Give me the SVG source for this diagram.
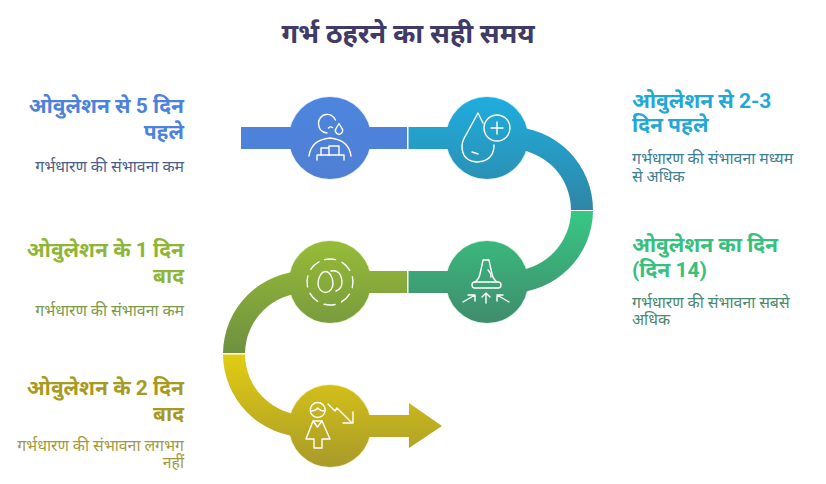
<svg xmlns="http://www.w3.org/2000/svg" width="826" height="484" viewBox="0 0 826 484">
<style>
text{font-family:Roboto,"Noto Sans","Liberation Sans",sans-serif}
.t{font-size:27px;font-weight:700;fill:#3f3b66;text-anchor:middle}
.h{font-size:21px;font-weight:700}
.b{font-size:15.800px}
.e{text-anchor:end}
.i{fill:none;stroke:#fff;stroke-width:1.400;stroke-linecap:round;stroke-linejoin:round}
</style>
<defs>
<linearGradient id="g1" gradientUnits="userSpaceOnUse" x1="0" y1="97" x2="0" y2="179"><stop offset="0" stop-color="#4d85de"/><stop offset="1" stop-color="#4f7fd4"/></linearGradient>
<linearGradient id="g2" gradientUnits="userSpaceOnUse" x1="0" y1="97" x2="0" y2="210"><stop offset="0" stop-color="#1fadde"/><stop offset="1" stop-color="#2f86a6"/></linearGradient>
<linearGradient id="g3" gradientUnits="userSpaceOnUse" x1="0" y1="210" x2="0" y2="323"><stop offset="0" stop-color="#37c884"/><stop offset="1" stop-color="#408c6c"/></linearGradient>
<linearGradient id="g4" gradientUnits="userSpaceOnUse" x1="0" y1="241" x2="0" y2="354"><stop offset="0" stop-color="#97bb37"/><stop offset="1" stop-color="#6d9040"/></linearGradient>
<linearGradient id="g5" gradientUnits="userSpaceOnUse" x1="0" y1="354" x2="0" y2="467"><stop offset="0" stop-color="#e2cd12"/><stop offset="1" stop-color="#a89a2a"/></linearGradient>
</defs>
<text class="t" x="408" y="43">गर्भ ठहरने का सही समय</text>
<g id="halos">
<circle cx="330" cy="138" r="42" fill="#e6eefb"/>
<circle cx="487" cy="138" r="42" fill="#def2f9"/>
<circle cx="487" cy="282" r="42" fill="#e0f5ea"/>
<circle cx="330" cy="282" r="42" fill="#edf4dc"/>
<circle cx="330" cy="426" r="42" fill="#f8f3d0"/>
</g>
<g id="connectors">
<rect x="241" y="127" width="166" height="22" fill="url(#g1)"/>
<path d="M408.500 127H510A83 83 0 0 1 593 210H571A61 61 0 0 0 510 149H408.500Z" fill="url(#g2)"/>
<path d="M408.500 293H510A83 83 0 0 0 593 211H571A61 61 0 0 1 510 271H408.500Z" fill="url(#g3)"/>
<path d="M407 271H306A83 83 0 0 0 223 353H245A61 61 0 0 1 306 293H407Z" fill="url(#g4)"/>
<path d="M223 354.500A83 83 0 0 0 306 437H409V448L442 426L409 403V415H306A61 61 0 0 1 245 354.500Z" fill="url(#g5)"/>
</g>
<g id="node1">
<circle cx="330" cy="138" r="41" fill="url(#g1)"/>
<g class="i"><path d="M327 133q-8.500-1-8.500-10a8.800 8.800 0 0 1 17-3"/><path d="M328.500 128q2-2 4-.5"/><path d="M339 123.500l-3 5a3.600 3.600 0 1 0 6 0Z"/><path d="M309 156q2-16 21-18q19 2 21 18"/><path d="M317 160v-5h27v5"/><path d="M321 155v-7h8M329 155v-9h10v9"/></g>
</g>
<g id="node2">
<circle cx="487" cy="138" r="41" fill="url(#g2)"/>
<g class="i"><circle cx="497" cy="128" r="13"/><path d="M497 122v12M491 128h12"/><path d="M483 123l-5-10l-11 20q-5 8-5 13q0 15 15 16q17-1 17-17"/><path d="M472 152l6 2"/></g>
</g>
<g id="node3">
<circle cx="487" cy="282" r="41" fill="url(#g3)"/>
<g class="i"><rect x="472" y="282" width="29" height="6" rx="3"/><path d="M475 282q4-3 5-8l2-9l1-5h6l1 5l2 9q1 5 5 8"/><path d="M488 270q3 3 3 7"/><path d="M463 302l12-7M468 295h7v6"/><path d="M486 303v-10M482 297l4-4l4 4"/><path d="M509 302l-12-7M503 295h-6v6"/></g>
</g>
<g id="node4">
<circle cx="330" cy="282" r="41" fill="url(#g4)"/>
<g class="i"><circle cx="330" cy="282" r="23" stroke-dasharray="11 7.060" transform="rotate(-103.700 330 282)"/><path d="M325.500 271.500c-4 0-7.500 6-7.500 12c0 5 3.500 9 7.500 9s7.500-4 7.500-9c0-6-3.500-12-7.500-12Z"/><path d="M331 271q10-2 11 11q0 7-6 9"/></g>
</g>
<g id="node5">
<circle cx="330" cy="426" r="41" fill="url(#g5)"/>
<g class="i"><circle cx="317.700" cy="410" r="7.500"/><path d="M310.500 411q5 0 7-3q3 3 7 3"/><path d="M313 421h9l8 18h-8v9h-8v-9h-8Z"/><path d="M313 421l4.500 6l4.500-6"/><path d="M328 404l7 7l2-3l15 15M353 412v11h-10"/></g>
</g>
<g id="labels">
<text class="h e" x="184" y="113" fill="#4d82dc">ओवुलेशन से 5 दिन</text>
<text class="h e" x="184" y="139" fill="#4d82dc">पहले</text>
<text class="b e" x="184" y="172" fill="#4c5f86">गर्भधारण की संभावना कम</text>
<text class="h" x="632" y="108" fill="#22a8d6">ओवुलेशन से 2-3</text>
<text class="h" x="632" y="132" fill="#22a8d6">दिन पहले</text>
<text class="b" x="632" y="164" fill="#3f7f96">गर्भधारण की संभावना मध्यम</text>
<text class="b" x="632" y="182" fill="#3f7f96">से अधिक</text>
<text class="h" x="632" y="252" fill="#35c07e">ओवुलेशन का दिन</text>
<text class="h" x="632" y="277" fill="#35c07e">(दिन 14)</text>
<text class="b" x="632" y="308" fill="#4b8a70">गर्भधारण की संभावना सबसे</text>
<text class="b" x="632" y="325" fill="#4b8a70">अधिक</text>
<text class="h e" x="184" y="257" fill="#8fb536">ओवुलेशन के 1 दिन</text>
<text class="h e" x="184" y="283" fill="#8fb536">बाद</text>
<text class="b e" x="184" y="316" fill="#7d9a4a">गर्भधारण की संभावना कम</text>
<text class="h e" x="184" y="395" fill="#a89a20">ओवुलेशन के 2 दिन</text>
<text class="h e" x="184" y="421" fill="#a89a20">बाद</text>
<text class="b e" x="184" y="451" fill="#a29a40">गर्भधारण की संभावना लगभग</text>
<text class="b e" x="184" y="468" fill="#a29a40">नहीं</text>
</g>
</svg>
